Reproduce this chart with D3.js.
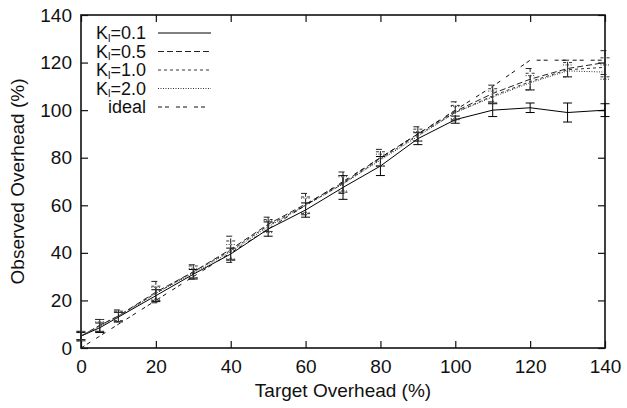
<!DOCTYPE html>
<html><head><meta charset="utf-8">
<script src="https://cdn.jsdelivr.net/npm/d3@7"></script>
<style>body{margin:0;background:#fff}svg{display:block}text{font-family:"Liberation Sans",Arial,sans-serif;fill:#111}</style>
</head><body><svg id="c" width="627" height="408"></svg>
<script>
const xs = [0,5,10,20,30,40,50,60,70,80,90,100,110,120,130,140];
const k01 = [5,8.5,13,22,31,39.5,50,58,67.5,76.5,88,96,100,101,99,100];
const k01Err = [1.5,2,2,2.5,2,2.5,3,3,5,4,2.5,1.5,2.7,2,4,2.7];
const k05 = [5,9.5,13.5,23.5,32,41.5,52,60.5,69.5,80,90,99.5,107,113,117.5,120];
const k05Err = [2,2.5,2.5,4.5,3,5.5,3,4.5,4.5,3.5,3,4,3.5,4.5,3.5,5];
const k10 = [5,9.5,13.5,23,32,41,51.5,60,69,79.5,89.5,99,106,112,117,118];
const k10Err = [2,2.5,2,3,2.5,4,2.5,3.5,3.5,3,2.5,3,3,3.5,3,4];
const k20 = [5,9,13,23,31.5,40.5,51,60,69,79,89,99,105.5,111.5,116.5,116];
const k20Err = [1.5,2,2,2.5,2,3,2.5,3,3,2.5,2,2.5,2.5,3,2.5,3];
const ideal = [0,5,10,20,30,40,50,60,70,80,90,100,110,121,121,121];
const xTicks = [0,20,40,60,80,100,120,140];
const yTicks = [0,20,40,60,80,100,120,140];
const legendLabels = ["0.1","0.5","1.0","2.0"];

const svg = d3.select("#c");
const L=81, R=605, T=15, B=348;
const x = d3.scaleLinear().domain([0,140]).range([L,R]);
const y = d3.scaleLinear().domain([0,140]).range([B,T]);
const FS = 19;

const series = [
  {v:k01, e:k01Err, dash:null, col:"#000"},
  {v:k05, e:k05Err, dash:"6,3", col:"#222"},
  {v:k10, e:k10Err, dash:"3,3", col:"#333"},
  {v:k20, e:k20Err, dash:"1,1.5", col:"#333"},
  {v:ideal, e:null, dash:"4,3,4,7", col:"#111"}
];

const tl = 7;
svg.append("g").attr("transform",`translate(0,${B})`).call(d3.axisBottom(x).tickValues(xTicks).tickSize(-tl).tickPadding(12)).call(g=>{g.select(".domain").remove();g.selectAll("text").attr("font-size",FS).attr("fill","#111");});
svg.append("g").attr("transform",`translate(0,${T})`).call(d3.axisTop(x).tickValues(xTicks).tickSize(-tl).tickFormat("")).call(g=>g.select(".domain").remove());
svg.append("g").attr("transform",`translate(${L},0)`).call(d3.axisLeft(y).tickValues(yTicks).tickSize(-tl).tickPadding(9)).call(g=>{g.select(".domain").remove();g.selectAll("text").attr("font-size",FS).attr("fill","#111");});
svg.append("g").attr("transform",`translate(${R},0)`).call(d3.axisRight(y).tickValues(yTicks).tickSize(-tl).tickFormat("")).call(g=>g.select(".domain").remove());
svg.selectAll(".tick line").attr("stroke","#111").attr("stroke-width",1.2);

svg.append("rect").attr("x",L).attr("y",T).attr("width",R-L).attr("height",B-T).attr("fill","none").attr("stroke","#111").attr("stroke-width",1.6);

const line = d3.line().x((d,i)=>x(xs[i])).y(d=>y(d));
series.forEach(s=>{
  const g = svg.append("g").attr("fill","none").attr("stroke",s.col).attr("stroke-width",1);
  g.append("path").attr("d",line(s.v)).attr("stroke-dasharray",s.dash);
  if(s.e){
    s.v.forEach((v,i)=>{
      const cx=x(xs[i]), y0=y(v-s.e[i]), y1=y(v+s.e[i]), c=4.5;
      g.append("line").attr("x1",cx).attr("x2",cx).attr("y1",y0).attr("y2",y1).attr("stroke-dasharray",s.dash);
      g.append("line").attr("x1",cx-c).attr("x2",cx+c).attr("y1",y0).attr("y2",y0).attr("stroke-dasharray",s.dash);
      g.append("line").attr("x1",cx-c).attr("x2",cx+c).attr("y1",y1).attr("y2",y1).attr("stroke-dasharray",s.dash);
    });
  }
});

const ly0=33, ldy=18.5;
series.forEach((s,i)=>{
  const yy = ly0+i*ldy;
  const t = svg.append("text").attr("x",146).attr("y",yy+6).attr("text-anchor","end").attr("font-size",18);
  if(i<4){
    t.append("tspan").text("K");
    t.append("tspan").attr("font-size",11).attr("dy",2.5).text("l");
    t.append("tspan").attr("dy",-2.5).text("="+legendLabels[i]);
  } else {
    t.text("ideal");
  }
  svg.append("line").attr("x1",158).attr("x2",211).attr("y1",yy).attr("y2",yy).attr("stroke",s.col).attr("stroke-width",1).attr("stroke-dasharray",s.dash);
});

svg.append("text").attr("x",(L+R)/2).attr("y",397).attr("text-anchor","middle").attr("font-size",FS).text("Target Overhead (%)");
svg.append("text").attr("transform",`translate(24,${(T+B)/2}) rotate(-90)`).attr("text-anchor","middle").attr("font-size",FS).text("Observed Overhead (%)");
</script></body></html>
